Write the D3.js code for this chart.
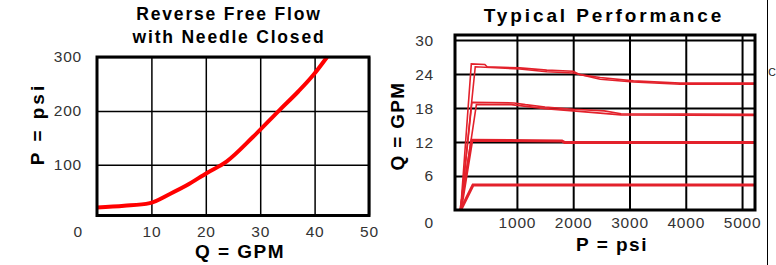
<!DOCTYPE html>
<html>
<head>
<meta charset="utf-8">
<script src="https://cdn.jsdelivr.net/npm/d3@7"></script>
<style>
  body { margin: 0; background: #fff; }
  svg { display: block; font-family: "Liberation Sans", Arial, sans-serif; }
  .tick text { fill: #333; font-size: 15.5px; letter-spacing: 0.8px; }
  .tick line { stroke: #000; }
</style>
</head>
<body>
<div id="chart"></div>
<script>
// left chart: reverse free flow, Q (GPM) vs P (psi)
const revQ = [0, 5, 9.7, 13.4, 16.5, 20.2, 23.8, 28.7, 33.6, 37, 39.8, 42.3];
const revP = [21, 24, 29, 46, 62, 85, 106, 152, 202, 236, 267, 300];
const revTicksX = [10, 20, 30, 40, 50];
const revTicksY = [100, 200, 300];

// right chart: typical performance, P (psi) vs Q (GPM), two traces for the upper curves
const topUpperP = [0, 190, 430, 470, 1050, 1530, 2000, 2120, 2480, 3070, 3900, 5230];
const topUpperQ = [0, 25.8, 25.7, 25.3, 25.1, 24.7, 24.5, 23.9, 23.4, 22.8, 22.4, 22.4];
const topLowerP = [0, 260, 1050, 1530, 2000, 2480, 3070, 3900, 5230];
const topLowerQ = [0, 25.3, 24.9, 24.4, 24.2, 23.1, 22.6, 22.2, 22.2];
const midUpperP = [0, 200, 950, 1150, 1500, 2000, 2550, 2850, 5230];
const midUpperQ = [0, 19.0, 18.9, 18.6, 18.2, 17.8, 17.5, 17.0, 16.9];
const midLowerP = [0, 280, 900, 1500, 2000, 2850, 5230];
const midLowerQ = [0, 18.6, 18.6, 17.9, 17.5, 16.8, 16.7];
const lowP = [0, 200, 1800, 1850, 5230];
const lowQ = [0, 12.3, 12.2, 11.9, 11.9];
const minP = [0, 220, 5230];
const minQ = [0, 4.4, 4.4];
const perfTicksX = [1000, 2000, 3000, 4000, 5000];
const perfTicksY = [6, 12, 18, 24, 30];

const svg = d3.select("#chart").append("svg")
    .attr("width", 776)
    .attr("height", 265);

// ---------- left chart ----------
const xL = d3.scaleLinear().domain([0, 50]).range([97, 369]);
const yL = d3.scaleLinear().domain([6, 300]).range([215.5, 57]);

const gyL = svg.append("g")
    .attr("transform", `translate(${xL(0)},0)`)
    .call(d3.axisLeft(yL).tickValues(revTicksY).tickSize(-(xL(50) - xL(0))).tickPadding(15));
gyL.select(".domain").remove();
gyL.selectAll(".tick line").attr("stroke-width", 1.5);

const gxL = svg.append("g")
    .attr("transform", `translate(0,${yL(6)})`)
    .call(d3.axisBottom(xL).tickValues(revTicksX).tickSize(-(yL(6) - yL(300))).tickPadding(10));
gxL.select(".domain").remove();
gxL.selectAll(".tick line").attr("stroke-width", 1.5);

// corner "0"
svg.append("text")
    .attr("x", 82).attr("y", 236.5)
    .attr("text-anchor", "end")
    .attr("fill", "#333").attr("font-size", 15.5)
    .text("0");

svg.append("path")
    .datum(d3.zip(revQ, revP))
    .attr("fill", "none")
    .attr("stroke", "#ff0000")
    .attr("stroke-width", 4)
    .attr("stroke-linejoin", "round")
    .attr("d", d3.line().x(d => xL(d[0])).y(d => yL(d[1])).curve(d3.curveMonotoneX));

svg.append("rect")
    .attr("x", xL(0)).attr("y", yL(300))
    .attr("width", xL(50) - xL(0)).attr("height", yL(6) - yL(300))
    .attr("fill", "none").attr("stroke", "#000").attr("stroke-width", 3);

svg.append("text")
    .attr("x", 229).attr("y", 20)
    .attr("text-anchor", "middle")
    .attr("font-weight", "bold").attr("font-size", 17.5).attr("letter-spacing", 1.8)
    .text("Reverse Free Flow");
svg.append("text")
    .attr("x", 229).attr("y", 43)
    .attr("text-anchor", "middle")
    .attr("font-weight", "bold").attr("font-size", 17.5).attr("letter-spacing", 1.8)
    .text("with Needle Closed");

svg.append("text")
    .attr("x", 240).attr("y", 258)
    .attr("text-anchor", "middle")
    .attr("font-weight", "bold").attr("font-size", 19).attr("letter-spacing", 1.5)
    .text("Q = GPM");

svg.append("text")
    .attr("transform", "translate(44,124) rotate(-90)")
    .attr("text-anchor", "middle")
    .attr("font-weight", "bold").attr("font-size", 19).attr("letter-spacing", 3)
    .text("P = psi");

// ---------- right chart ----------
const xR = d3.scaleLinear().domain([-100, 5230]).range([455, 755]);
const yR = d3.scaleLinear().domain([0, 30.9]).range([210, 35]);

const gyR = svg.append("g")
    .attr("transform", `translate(455,0)`)
    .call(d3.axisLeft(yR).tickValues(perfTicksY).tickSize(-300).tickPadding(21));
gyR.select(".domain").remove();
gyR.selectAll(".tick line").attr("stroke-width", 2);

const gxR = svg.append("g")
    .attr("transform", `translate(0,210)`)
    .call(d3.axisBottom(xR).tickValues(perfTicksX).tickFormat(d3.format("d")).tickSize(-175).tickPadding(7));
gxR.select(".domain").remove();
gxR.selectAll(".tick line").attr("stroke-width", 2);

svg.append("text")
    .attr("x", 433).attr("y", 227.5)
    .attr("text-anchor", "end")
    .attr("fill", "#333").attr("font-size", 15.5)
    .text("0");

const perfLine = d3.line().x(d => xR(d[0])).y(d => yR(d[1]));
const traces = [
    [topUpperP, topUpperQ], [topLowerP, topLowerQ],
    [midUpperP, midUpperQ], [midLowerP, midLowerQ],
    [lowP, lowQ], [minP, minQ]
];
svg.selectAll(".perf")
    .data(traces)
    .enter().append("path")
    .attr("class", "perf")
    .attr("fill", "none")
    .attr("stroke", "#e3212b")
    .attr("stroke-width", (d, i) => i < 4 ? 1.6 : 3)
    .attr("d", d => perfLine(d3.zip(d[0], d[1])));

svg.append("rect")
    .attr("x", 455).attr("y", 35)
    .attr("width", 300).attr("height", 175)
    .attr("fill", "none").attr("stroke", "#000").attr("stroke-width", 3);

svg.append("text")
    .attr("x", 604).attr("y", 22)
    .attr("text-anchor", "middle")
    .attr("font-weight", "bold").attr("font-size", 19).attr("letter-spacing", 2.9)
    .text("Typical Performance");

svg.append("text")
    .attr("x", 612).attr("y", 251)
    .attr("text-anchor", "middle")
    .attr("font-weight", "bold").attr("font-size", 19).attr("letter-spacing", 1.5)
    .text("P = psi");

svg.append("text")
    .attr("transform", "translate(404,126) rotate(-90)")
    .attr("text-anchor", "middle")
    .attr("font-weight", "bold").attr("font-size", 19).attr("letter-spacing", 1.3)
    .text("Q = GPM");

// page edge bits on the right
svg.append("line")
    .attr("x1", 767.5).attr("x2", 767.5)
    .attr("y1", 0).attr("y2", 265)
    .attr("stroke", "#000").attr("stroke-width", 1);
svg.append("text")
    .attr("x", 768.3).attr("y", 76)
    .attr("fill", "#222").attr("font-size", 10.5)
    .text("C");
</script>
</body>
</html>
